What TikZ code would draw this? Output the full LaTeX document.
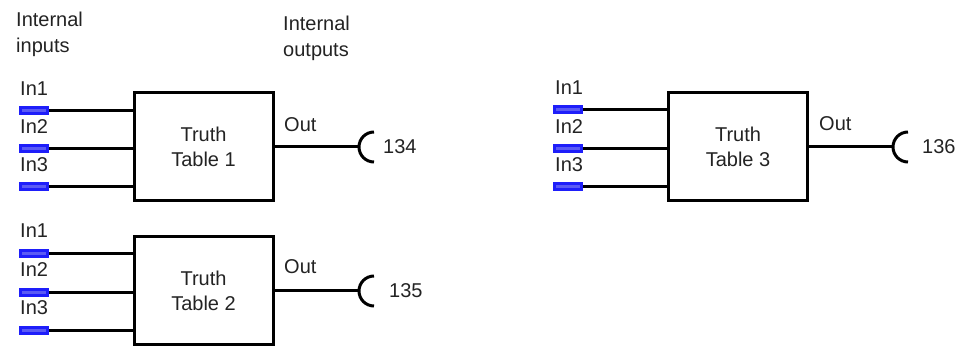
\documentclass[tikz,border=0pt]{standalone}
\usepackage{fontspec}
\setmainfont{Liberation Sans}
\definecolor{pinblue}{RGB}{30,30,250}
\definecolor{pinlight}{RGB}{90,90,245}
\definecolor{txt}{RGB}{35,35,35}
\begin{document}
\begin{tikzpicture}[x=1pt,y=-1pt,
  lbl/.style={font=\fontsize{20}{26}\selectfont, text=txt, inner sep=0pt},
  ttbox/.style={draw, line width=3pt, minimum width=139pt, minimum height=108pt, align=center,
    font=\fontsize{20}{25}\selectfont, text=txt, inner sep=0pt},
  pinbox/.style={fill=pinblue, minimum width=30pt, minimum height=9pt, inner sep=0pt,
    path picture={\fill[pinlight] ([xshift=3pt,yshift=-3pt]path picture bounding box.north west)
      rectangle ([xshift=-3pt,yshift=3pt]path picture bounding box.south east);}},
  wire/.style={line width=3pt},
  sock/.style={line width=3pt}
]
\useasboundingbox (0,0) rectangle (964,347);

% header labels
\node[lbl, anchor=north west, align=left] (hin) at (16,12) {Internal\\inputs};
\node[lbl, anchor=north west, align=left] (hout) at (283,16) {Internal\\outputs};

% ---------- block 1 ----------
\node[ttbox] (box1) at (203.5,147) {Truth\\Table 1};
\foreach \i/\y in {1/111,2/149,3/187}{
  \node[pinbox] (p1\i) at (34,\y) {};
  \node[lbl, anchor=base west] (l1\i) at (20,\y-15) {In\i};
  \draw[wire] (p1\i.east) -- (p1\i.east -| box1.west);
}
\node[lbl, anchor=base west] (o1) at (284,132) {Out};
\coordinate (c1) at (374,147);
\coordinate (j1) at (359,147);
\draw[wire] (box1.east) -- (j1);
\draw[sock] ([yshift=15pt]c1) arc[start angle=90,end angle=270,radius=15pt];
\node[lbl, anchor=west] (n1) at (383,147) {134};

% ---------- block 2 ----------
\node[ttbox] (box2) at (203.5,291) {Truth\\Table 2};
\foreach \i/\y in {1/254,2/293,3/331}{
  \node[pinbox] (p2\i) at (34,\y) {};
  \node[lbl, anchor=base west] (l2\i) at (20,\y-16) {In\i};
  \draw[wire] (p2\i.east) -- (p2\i.east -| box2.west);
}
\node[lbl, anchor=base west] (o2) at (284,274) {Out};
\coordinate (c2) at (374,291);
\coordinate (j2) at (359,291);
\draw[wire] (box2.east) -- (j2);
\draw[sock] ([yshift=15pt]c2) arc[start angle=90,end angle=270,radius=15pt];
\node[lbl, anchor=west] (n2) at (389,291) {135};

% ---------- block 3 ----------
\node[ttbox] (box3) at (738,147) {Truth\\Table 3};
\foreach \i/\y in {1/110,2/149,3/187}{
  \node[pinbox] (p3\i) at (568,\y) {};
  \node[lbl, anchor=base west] (l3\i) at (555,\y-15) {In\i};
  \draw[wire] (p3\i.east) -- (p3\i.east -| box3.west);
}
\node[lbl, anchor=base west] (o3) at (819,131) {Out};
\coordinate (c3) at (908,147);
\coordinate (j3) at (893,147);
\draw[wire] (box3.east) -- (j3);
\draw[sock] ([yshift=15pt]c3) arc[start angle=90,end angle=270,radius=15pt];
\node[lbl, anchor=west] (n3) at (922,147) {136};
\end{tikzpicture}
\end{document}
